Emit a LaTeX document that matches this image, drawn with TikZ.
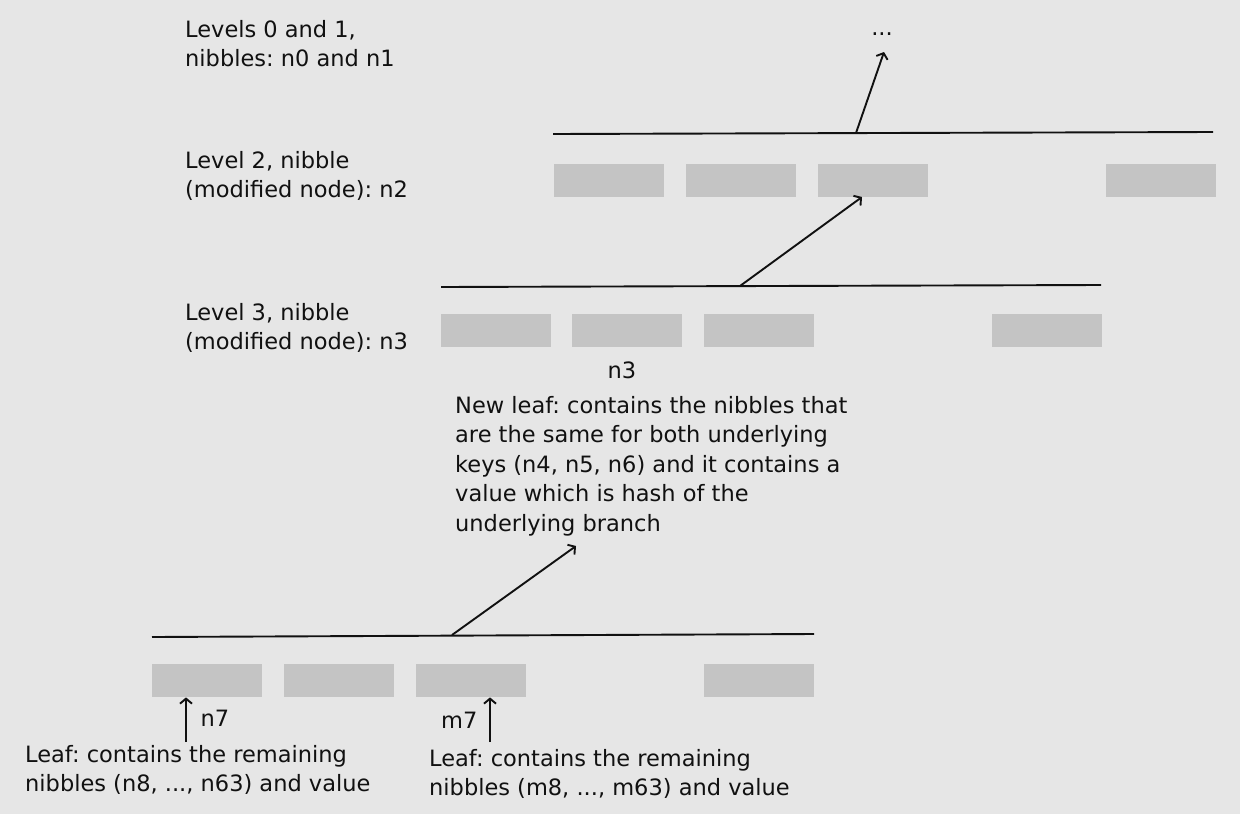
\documentclass[tikz,border=0pt]{standalone}
\usepackage{fontspec}
\setmainfont{DejaVu Sans}
\usetikzlibrary{positioning,arrows.meta}
\frenchspacing

\definecolor{bg}{HTML}{E6E6E6}
\definecolor{slot}{HTML}{C4C4C4}
\definecolor{ink}{HTML}{111111}

\tikzset{
  slotbox/.style={fill=slot, minimum width=110pt, minimum height=33pt, inner sep=0pt, anchor=north west},
  txt/.style={ink, align=left, inner sep=0pt, anchor=north west},
  levelline/.style={ink, line width=1.9pt},
  ptr/.style={ink, line width=1.9pt, -{Straight Barb[length=5pt, width=12pt]}},
}

\begin{document}
\begin{tikzpicture}[x=1pt, y=-1pt, font=\fontsize{22.5}{29.5}\selectfont]
  \fill[bg] (0,0) rectangle (1240,814);
  \useasboundingbox (0,0) rectangle (1240,814);

  % level captions
  \node[txt] (lvl01) at (185,20) {Levels 0 and 1,\\nibbles: n0 and n1};
  \node[txt] (lvl2) at (185,151) {Level 2, nibble\\(modified node): n2};
  \node[txt] (lvl3) at (185,303) {Level 3, nibble\\(modified node): n3};

  % level 2
  \node[ink, anchor=base] (dots) at (882,35) {...};
  \coordinate (dotsin) at (884,52);
  \coordinate (l2a) at (553,134);
  \coordinate (l2b) at (1213,132);
  \coordinate (l2s) at (856,133);
  \draw[levelline] (l2a) -- (l2b);
  \foreach \x [count=\i] in {554,686,818,1106}
    \node[slotbox] (b2\i) at (\x,164) {};
  \draw[ptr] (l2s) -- (dotsin);

  % level 3
  \coordinate (l3a) at (441,287);
  \coordinate (l3b) at (1101,285);
  \coordinate (l3s) at (740,286);
  \coordinate (l3e) at (862,197);
  \draw[levelline] (l3a) -- (l3b);
  \foreach \x [count=\i] in {441,572,704,992}
    \node[slotbox] (b3\i) at (\x,314) {};
  \draw[ptr] (l3s) -- (l3e);
  \node[ink, anchor=base] (n3) at (622,378) {n3};

  % new leaf
  \node[txt] (newleaf) at (455,396) {New leaf: contains the nibbles that\\are the same for both underlying\\keys (n4, n5, n6) and it contains a\\value which is hash of the\\underlying branch};

  % bottom branch
  \coordinate (l4a) at (152,637);
  \coordinate (l4b) at (814,634);
  \coordinate (l4s) at (452,635);
  \coordinate (l4e) at (576,546);
  \draw[levelline] (l4a) -- (l4b);
  \foreach \x [count=\i] in {152,284,416,704}
    \node[slotbox] (b4\i) at (\x,664) {};
  \draw[ptr] (l4s) -- (l4e);

  % leaves
  \coordinate (n7foot) at (186,742);
  \coordinate (m7foot) at (490,742);
  \draw[ptr] (n7foot) -- (n7foot |- b41.south);
  \draw[ptr] (m7foot) -- (m7foot |- b43.south);
  \node[ink, anchor=base west] (n7) at (197,726) {n7};
  \node[ink, anchor=base east] (m7) at (481,728) {m7};
  \node[txt] (leafn) at (25,745) {Leaf: contains the remaining\\nibbles (n8, ..., n63) and value};
  \node[txt] (leafm) at (429,749) {Leaf: contains the remaining\\nibbles (m8, ..., m63) and value};
\end{tikzpicture}
\end{document}
